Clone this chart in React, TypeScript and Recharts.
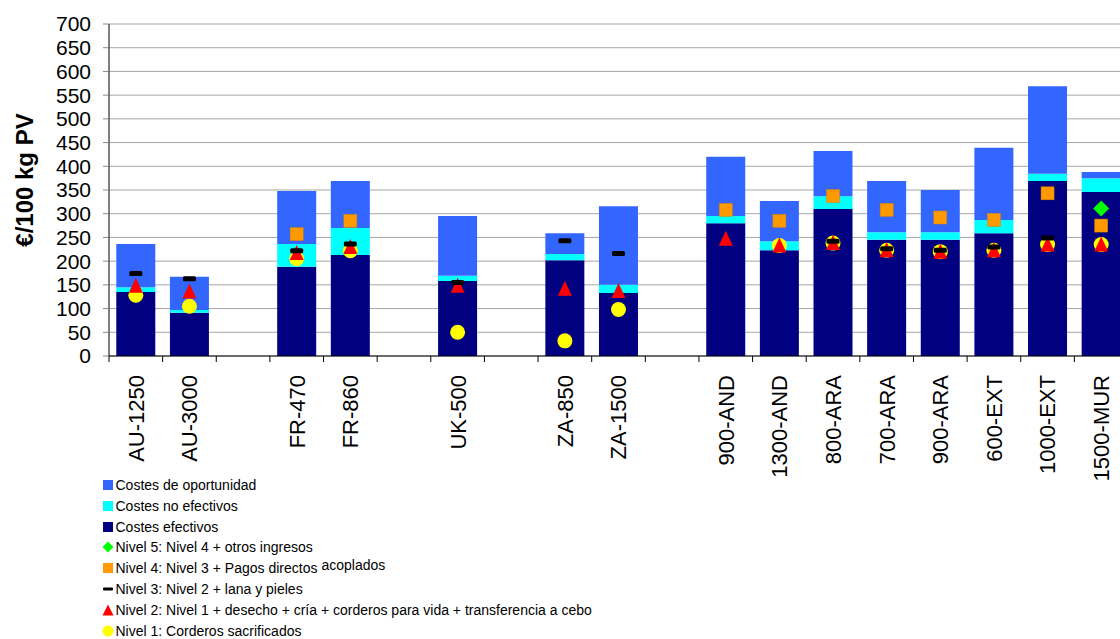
import { ComposedChart, Bar, Scatter, XAxis, YAxis, CartesianGrid } from "recharts";

const FONT = '"Liberation Sans", Arial, sans-serif';
const Y_AXIS_WIDTH = 109;

// categories, "" = empty slot between country groups
const categories = [
  "AU-1250", "AU-3000", "", "FR-470", "FR-860", "", "UK-500", "", "ZA-850", "ZA-1500", "",
  "900-AND", "1300-AND", "800-ARA", "700-ARA", "900-ARA", "600-EXT", "1000-EXT", "1500-MUR",
];

const costesEfectivos = [135, 91, null, 188, 213, null, 158, null, 202, 133, null, 280, 223, 310, 245, 245, 259, 369, 346];
const costesNoEfectivos = [10, 6, null, 48, 57, null, 11, null, 13, 17, null, 15, 19, 27, 16, 16, 28, 15, 29];
const costesOportunidad = [91, 70, null, 112, 99, null, 126, null, 44, 166, null, 125, 85, 95, 108, 89, 152, 185, 13];

const nivel1 = [128, 105, null, 205, 222, null, 50, null, 32, 98, null, null, 233, 238, 223, 220, 223, 235, 235];
const nivel2 = [148, 136, null, 217, 230, null, 148, null, 142, 137, null, 247, 233, 238, 223, 220, 223, 235, 235];
const nivel3 = [174, 163, null, 222, 236, null, 155, null, 243, 216, null, null, null, 242, 226, 223, 230, 249, null];
const nivel4 = [null, null, null, 257, 285, null, null, null, null, null, null, 308, 285, 337, 308, 292, 287, 343, 275];
const nivel5 = [null, null, null, null, null, null, null, null, null, null, null, null, null, null, null, null, null, null, 311];

const yTicks = [0, 50, 100, 150, 200, 250, 300, 350, 400, 450, 500, 550, 600, 650, 700];

const data = categories.map((name, i) => ({
  slot: i,
  name,
  efectivos: costesEfectivos[i],
  noEfectivos: costesNoEfectivos[i],
  oportunidad: costesOportunidad[i],
  n1: nivel1[i],
  n2: nivel2[i],
  n3: nivel3[i],
  n4: nivel4[i],
  n5: nivel5[i],
}));

function marker(key: string, draw: (x: number, y: number) => any) {
  return (props: any) => {
    const { cx, cy, payload } = props;
    if (!payload || payload[key] == null || cx == null || cy == null || isNaN(cy)) return <g />;
    return draw(cx, cy);
  };
}

const dotShape = marker("n1", (x, y) => <circle cx={x} cy={y} r={7.5} fill="#FFFF00" />);
const triShape = marker("n2", (x, y) => (
  <polygon points={`${x},${y - 8} ${x + 7},${y + 7} ${x - 7},${y + 7}`} fill="#FF0000" />
));
const dashShape = marker("n3", (x, y) => <rect x={x - 6.5} y={y - 2.5} width={13} height={5} rx={1.5} fill="#000" />);
const squareShape = marker("n4", (x, y) => (
  <rect x={x - 6.5} y={y - 6.5} width={13} height={13} fill="#FF9900" stroke="#d98000" strokeWidth={0.5} />
));
const diamondShape = marker("n5", (x, y) => (
  <polygon points={`${x},${y - 8} ${x + 8},${y} ${x},${y + 8} ${x - 8},${y}`} fill="#00FF00" />
));

// label + Excel-style tick marks on the category boundaries
function CategoryTick(props: any) {
  const { x, y, payload } = props;
  const slot = Number(payload?.value) || 0;
  const half = (x - Y_AXIS_WIDTH) / (2 * slot + 1);
  const label = categories[slot] ?? "";
  const ty = y + 19;
  return (
    <g>
      <rect x={x - half - 0.5} y={y} width={1} height={6} fill="#000" />
      {slot === categories.length - 1 && <rect x={x + half - 0.5} y={y} width={1} height={6} fill="#000" />}
      <text
        x={x}
        y={ty}
        transform={`rotate(-90 ${x} ${ty})`}
        textAnchor="end"
        dy="0.36em"
        fontSize={22}
        fontFamily={FONT}
        fill="#000"
      >
        {label}
      </text>
    </g>
  );
}

function yLabel(props: any) {
  const vb = props.viewBox;
  const cx = vb.x + 24;
  const cy = vb.y + vb.height / 2 - 10;
  return (
    <text
      x={cx}
      y={cy}
      transform={`rotate(-90 ${cx} ${cy})`}
      textAnchor="middle"
      dominantBaseline="central"
      fontSize={24}
      fontWeight="bold"
      fontFamily={FONT}
      fill="#000"
    >
      €/100 kg PV
    </text>
  );
}

const legendItems = [
  { label: "Costes de oportunidad", icon: <rect x={1} y={1} width={10} height={10} fill="#3366FF" /> },
  { label: "Costes no efectivos", icon: <rect x={1} y={1} width={10} height={10} fill="#00FFFF" /> },
  { label: "Costes efectivos", icon: <rect x={1} y={1} width={10} height={10} fill="#000080" /> },
  { label: "Nivel 5: Nivel 4 + otros ingresos", icon: <polygon points="6,0.5 11.5,6 6,11.5 0.5,6" fill="#00FF00" /> },
  { label: "Nivel 4: Nivel 3 + Pagos directos", extra: "acoplados", icon: <rect x={1} y={1} width={10} height={10} fill="#FF9900" /> },
  { label: "Nivel 3: Nivel 2 + lana y pieles", icon: <rect x={1} y={4.5} width={10} height={3} rx={1} fill="#000" /> },
  { label: "Nivel 2: Nivel 1 + desecho + cría + corderos para vida + transferencia a cebo", icon: <polygon points="6,0.5 11.5,11.5 0.5,11.5" fill="#FF0000" /> },
  { label: "Nivel 1: Corderos sacrificados", icon: <circle cx={6} cy={6} r={5.5} fill="#FFFF00" /> },
];

export default function App() {
  return (
    <div
      style={{
        position: "absolute",
        left: 0,
        top: 0,
        width: 1120,
        height: 639,
        overflow: "hidden",
        background: "#fff",
        fontFamily: FONT,
      }}
    >
      <ComposedChart
        width={1130}
        height={639}
        data={data}
        margin={{ top: 24, right: 2, left: 0, bottom: 163 }}
        barCategoryGap="13.6%"
      >
        <CartesianGrid vertical={false} stroke="#a6a6a6" />
        <XAxis
          dataKey="slot"
          type="category"
          height={120}
          axisLine={{ stroke: "#000" }}
          tickLine={false}
          tickSize={0}
          tickMargin={0}
          interval={0}
          tick={<CategoryTick />}
        />
        <YAxis
          width={Y_AXIS_WIDTH}
          domain={[0, 700]}
          ticks={yTicks}
          interval={0}
          axisLine={{ stroke: "#000" }}
          tickLine={{ stroke: "#888" }}
          tickSize={6}
          tickMargin={12}
          tick={{ fontSize: 21, fill: "#000", fontFamily: FONT }}
          label={yLabel}
        />
        <Bar dataKey="efectivos" stackId="c" fill="#000080" isAnimationActive={false} />
        <Bar dataKey="noEfectivos" stackId="c" fill="#00FFFF" isAnimationActive={false} />
        <Bar dataKey="oportunidad" stackId="c" fill="#3366FF" isAnimationActive={false} />
        <Scatter dataKey="n1" shape={dotShape} isAnimationActive={false} />
        <Scatter dataKey="n2" shape={triShape} isAnimationActive={false} />
        <Scatter dataKey="n3" shape={dashShape} isAnimationActive={false} />
        <Scatter dataKey="n4" shape={squareShape} isAnimationActive={false} />
        <Scatter dataKey="n5" shape={diamondShape} isAnimationActive={false} />
      </ComposedChart>

      <div style={{ position: "absolute", left: 102, top: 474.5, fontSize: 14, color: "#000" }}>
        {legendItems.map((it) => (
          <div key={it.label} style={{ display: "flex", alignItems: "center", height: 20.85, whiteSpace: "nowrap" }}>
            <svg width={12} height={12} style={{ marginRight: 1.5 }}>
              {it.icon}
            </svg>
            <span>{it.label}</span>
            {it.extra && <span style={{ position: "relative", top: -3, marginLeft: 4 }}>{it.extra}</span>}
          </div>
        ))}
      </div>
    </div>
  );
}
